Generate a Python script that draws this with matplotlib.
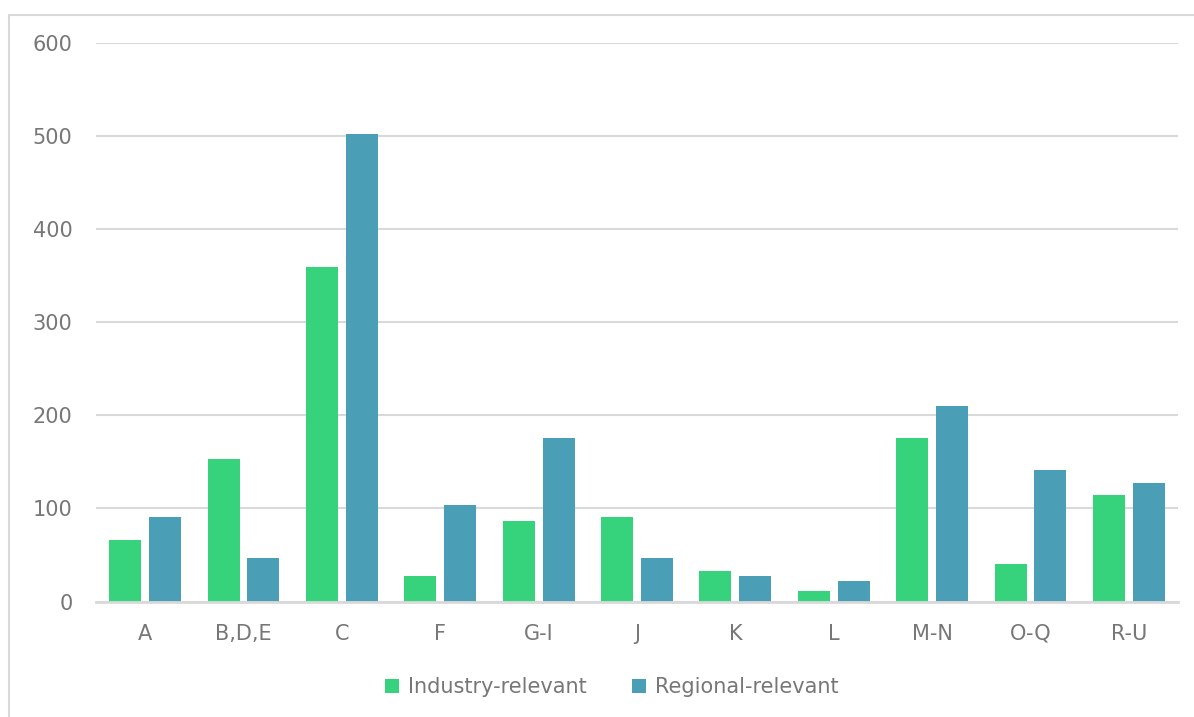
import matplotlib

matplotlib.use("Agg")

import matplotlib.pyplot as plt
import numpy as np
from matplotlib.patches import Rectangle

sectors = ["A", "B,D,E", "C", "F", "G-I", "J", "K", "L", "M-N", "O-Q", "R-U"]
industry_relevant = [66, 153, 359, 27, 86, 91, 33, 11, 176, 40, 114]
regional_relevant = [91, 47, 502, 104, 176, 47, 27, 22, 210, 141, 127]

GREEN = "#36D37C"
BLUE = "#4A9FB6"
GRID = "#D9D9D9"
TEXT = "#777777"

plt.rcParams["font.family"] = ["DejaVu Sans"]

fig = plt.figure(figsize=(11.94, 7.17), dpi=100)
ax = fig.add_axes([96 / 1194, 1 - 601.5 / 717, (1178 - 96) / 1194, (601.5 - 43) / 717])

x = np.arange(len(sectors))
width = 0.325
ax.bar(x - 0.2025, industry_relevant, width, color=GREEN, label="Industry-relevant", zorder=3)
ax.bar(x + 0.2025, regional_relevant, width, color=BLUE, label="Regional-relevant", zorder=3)

ax.set_xlim(-0.5, len(sectors) - 0.5)
ax.set_ylim(0, 600)
ax.set_yticks(range(0, 601, 100))
ax.set_xticks(x)
ax.set_xticklabels(sectors)
ax.yaxis.grid(True, color=GRID, linewidth=1.5, zorder=0)
ax.tick_params(axis="both", length=0, labelsize=15, labelcolor=TEXT)
ax.tick_params(axis="y", pad=17)
ax.tick_params(axis="x", pad=16)
for side in ["top", "right", "left"]:
    ax.spines[side].set_visible(False)
ax.spines["bottom"].set_color(GRID)
ax.spines["bottom"].set_linewidth(2)
ax.spines["bottom"].set_zorder(4)

leg = fig.legend(loc="center", bbox_to_anchor=(612 / 1194, 1 - 687 / 717), ncol=2,
                 frameon=False, fontsize=15, handlelength=0.65, handleheight=0.65,
                 handletextpad=0.45, columnspacing=2.2)
for t in leg.get_texts():
    t.set_color(TEXT)

# light frame around the chart area
fig.patches.append(Rectangle((8.5 / 1194, -0.05), 1.1, 1 - 14.5 / 717 + 0.05,
                             transform=fig.transFigure, fill=False,
                             edgecolor=GRID, linewidth=1.5))

fig.savefig("out.png", dpi=100)
